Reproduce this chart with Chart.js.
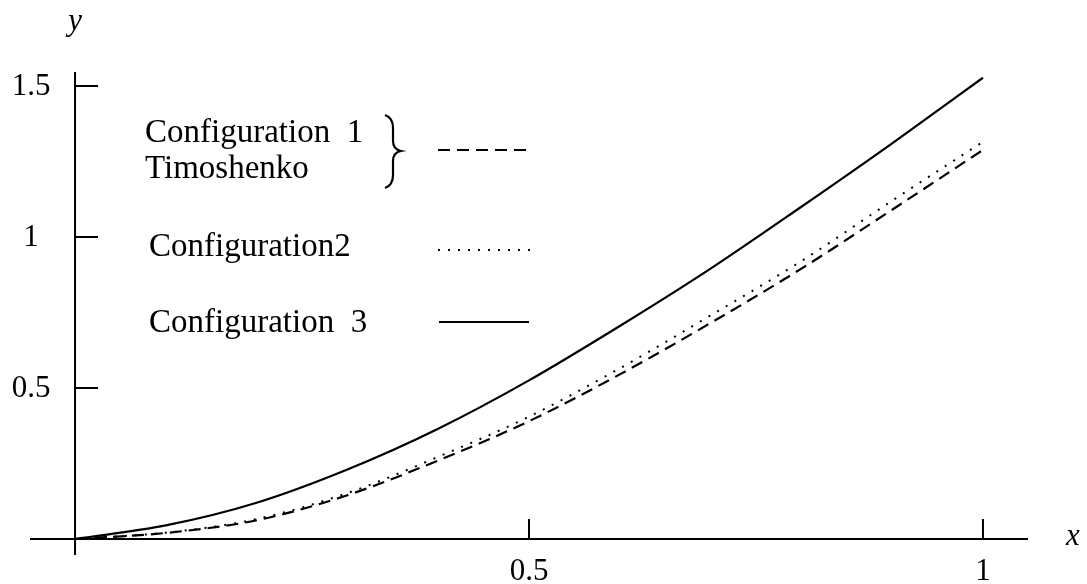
<!DOCTYPE html>
<html>
<head>
<meta charset="utf-8">
<script src="https://cdn.jsdelivr.net/npm/chart.js@4/dist/chart.umd.min.js"></script>
<style>
  html, body { margin: 0; padding: 0; background: #fff; }
  #wrap { width: 1087px; height: 584px; }
</style>
</head>
<body>
<div id="wrap"><canvas id="c" width="1087" height="584"></canvas></div>
<script>
// ---- data ----
const xValues = [0, 0.1, 0.2, 0.3, 0.4, 0.5, 0.6, 0.7, 0.8, 0.9, 1.0];
const config1Timoshenko = [0, 0.02, 0.062, 0.145, 0.26, 0.39, 0.545, 0.715, 0.895, 1.09, 1.288];
const config2 = [0, 0.021, 0.066, 0.152, 0.272, 0.405, 0.565, 0.74, 0.92, 1.12, 1.315];
const config3 = [0, 0.045, 0.12, 0.23, 0.365, 0.525, 0.705, 0.895, 1.10, 1.31, 1.527];

const xTickValues = [0.5, 1];
const xTickLabels = ['0.5', '1'];
const yTickValues = [0.5, 1, 1.5];
const yTickLabels = ['0.5', '1', '1.5'];

const legendLabels = [['Configuration  1', 'Timoshenko'], ['Configuration2'], ['Configuration  3']];
const xAxisTitle = 'x';
const yAxisTitle = 'y';

const FONT = "'Liberation Serif', 'DejaVu Serif', serif";
const DASH1 = [12, 7];
const DOT2 = [2, 8];

function pts(ys) { return xValues.map((x, i) => ({ x: x, y: ys[i] })); }

const axesPlugin = {
  id: 'texAxes',
  beforeDatasetsDraw(chart) {
    const ctx = chart.ctx, xs = chart.scales.x, ys = chart.scales.y, ca = chart.chartArea;
    const x0 = xs.getPixelForValue(0), y0 = ys.getPixelForValue(0);
    ctx.save();
    ctx.strokeStyle = '#000';
    ctx.lineWidth = 2;
    ctx.beginPath();
    ctx.moveTo(ca.left, y0); ctx.lineTo(ca.right, y0);
    ctx.moveTo(x0, ca.top); ctx.lineTo(x0, ca.bottom);
    xTickValues.forEach(v => { const p = xs.getPixelForValue(v); ctx.moveTo(p, y0); ctx.lineTo(p, y0 - 20); });
    yTickValues.forEach(v => { const p = ys.getPixelForValue(v); ctx.moveTo(x0, p); ctx.lineTo(x0 + 23, p); });
    ctx.stroke();
    ctx.fillStyle = '#000';
    ctx.font = '31px ' + FONT;
    ctx.textAlign = 'center';
    ctx.textBaseline = 'middle';
    xTickValues.forEach((v, i) => ctx.fillText(xTickLabels[i], xs.getPixelForValue(v), y0 + 33));
    yTickValues.forEach((v, i) => ctx.fillText(yTickLabels[i], x0 - 44, ys.getPixelForValue(v) + 1));
    ctx.font = 'italic 31px ' + FONT;
    ctx.fillText(xAxisTitle, ca.right + 45, y0 - 2);
    ctx.fillText(yAxisTitle, x0, ca.top - 50);
    ctx.restore();
  },
  afterDraw(chart) {
    const ctx = chart.ctx;
    ctx.save();
    ctx.fillStyle = '#000';
    ctx.strokeStyle = '#000';
    ctx.font = '33px ' + FONT;
    ctx.textAlign = 'left';
    ctx.textBaseline = 'alphabetic';
    ctx.fillText(legendLabels[0][0], 145, 142);
    ctx.fillText(legendLabels[0][1], 145, 178);
    ctx.fillText(legendLabels[1][0], 149, 256);
    ctx.fillText(legendLabels[2][0], 149, 332);
    // brace
    ctx.lineWidth = 2.2;
    ctx.beginPath();
    ctx.moveTo(385, 115);
    ctx.bezierCurveTo(391, 117, 393, 121, 393, 128);
    ctx.lineTo(393, 141);
    ctx.bezierCurveTo(393, 147, 396, 150, 401, 151);
    ctx.bezierCurveTo(396, 152, 393, 155, 393, 161);
    ctx.lineTo(393, 175);
    ctx.bezierCurveTo(393, 182, 391, 186, 385, 188);
    ctx.stroke();
    // samples
    ctx.lineWidth = 2;
    ctx.setLineDash(DASH1);
    ctx.beginPath(); ctx.moveTo(438, 150); ctx.lineTo(530, 150); ctx.stroke();
    ctx.lineWidth = 2;
    ctx.setLineDash(DOT2);
    ctx.beginPath(); ctx.moveTo(438, 250); ctx.lineTo(530, 250); ctx.stroke();
    ctx.lineWidth = 2;
    ctx.setLineDash([]);
    ctx.beginPath(); ctx.moveTo(439, 322); ctx.lineTo(529, 322); ctx.stroke();
    ctx.restore();
  }
};

new Chart(document.getElementById('c'), {
  type: 'line',
  data: {
    datasets: [
      { label: 'Configuration 1 / Timoshenko', data: pts(config1Timoshenko), borderColor: '#000', borderWidth: 2.2, borderDash: DASH1, pointRadius: 0, cubicInterpolationMode: 'monotone', fill: false },
      { label: 'Configuration2', data: pts(config2), borderColor: '#000', borderWidth: 2, borderDash: DOT2, pointRadius: 0, cubicInterpolationMode: 'monotone', fill: false },
      { label: 'Configuration 3', data: pts(config3), borderColor: '#000', borderWidth: 2.2, pointRadius: 0, cubicInterpolationMode: 'monotone', fill: false }
    ]
  },
  options: {
    responsive: false,
    animation: false,
    layout: { padding: { left: 30, right: 59, top: 72, bottom: 29 } },
    plugins: { legend: { display: false }, tooltip: { enabled: false } },
    scales: {
      x: { type: 'linear', display: false, min: -0.0496, max: 1.0496 },
      y: { type: 'linear', display: false, min: -0.053, max: 1.546 }
    }
  },
  plugins: [axesPlugin]
});
</script>
</body>
</html>
